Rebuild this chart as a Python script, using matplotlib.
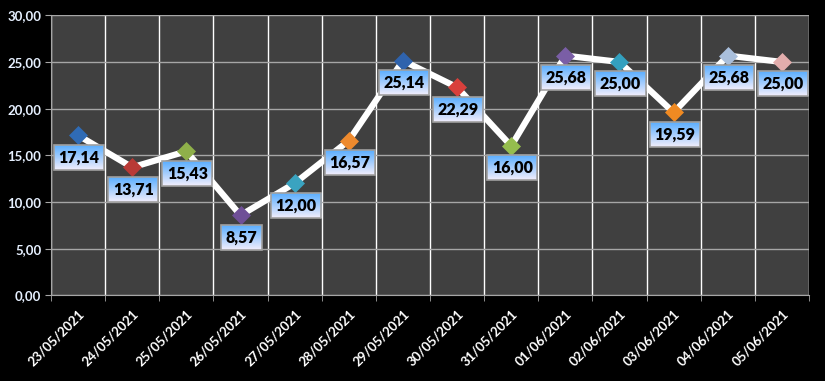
import numpy as np
import matplotlib
matplotlib.use("Agg")
import matplotlib.pyplot as plt

dates = ["23/05/2021", "24/05/2021", "25/05/2021", "26/05/2021", "27/05/2021",
         "28/05/2021", "29/05/2021", "30/05/2021", "31/05/2021", "01/06/2021",
         "02/06/2021", "03/06/2021", "04/06/2021", "05/06/2021"]
values = [17.14, 13.71, 15.43, 8.57, 12.00, 16.57, 25.14, 22.29, 16.00,
          25.68, 25.00, 19.59, 25.68, 25.00]
marker_colors = ["#2f6bb5", "#b93a36", "#8fb04a", "#6f4f97", "#3aa3c0", "#ee8a2e",
                 "#2f63ad", "#d9403c", "#95bd4e", "#7a5ea6", "#33a0bf", "#f08a22",
                 "#a9bfdc", "#e2adac"]
y_ticks = [0, 5, 10, 15, 20, 25, 30]

plt.rcParams['font.family'] = ['Lato', 'DejaVu Sans']

fig = plt.figure(figsize=(8.25, 3.81), dpi=100, facecolor="black")
ax = fig.add_axes([51 / 825, 1 - 295.3 / 381, (809 - 51) / 825, (295.3 - 15.3) / 381])
ax.set_facecolor("#404040")

x = np.arange(len(values))
ax.set_xlim(-0.5, len(values) - 0.5)
ax.set_ylim(0, 30)

# grid: gray horizontal, white vertical at category boundaries
ax.set_yticks(y_ticks)
ax.set_yticklabels([f"{v:.2f}".replace(".", ",") for v in y_ticks])
ax.set_xticks(x)
ax.set_xticklabels(dates, rotation=45, ha="right", rotation_mode="anchor")
ax.set_xticks(np.arange(-0.5, len(values)), minor=True)
ax.grid(axis="y", which="major", color="#a6a6a6", linewidth=1)
ax.grid(axis="x", which="minor", color="white", linewidth=1)
ax.set_axisbelow(True)

ax.tick_params(axis="x", which="major", length=0, pad=9, colors="white", labelsize=9.5)
ax.tick_params(axis="x", which="minor", length=4, color="#a6a6a6", direction="out")
ax.tick_params(axis="y", length=4, color="#a6a6a6", labelcolor="#e6f0ff", labelsize=9.5, pad=3)
for lbl in ax.get_xticklabels() + ax.get_yticklabels():
    lbl.set_fontweight("bold")
for side in ["top", "right"]:
    ax.spines[side].set_visible(False)
for side in ["left", "bottom"]:
    ax.spines[side].set_color("#a6a6a6")

ax.plot(x, values, color="white", linewidth=4.5, solid_joinstyle="miter", zorder=3)
for xi, v, c in zip(x, values, marker_colors):
    ax.plot(xi, v, marker="D", markersize=9.5, color=c, markeredgecolor=c,
            markeredgewidth=0.5, zorder=4)

texts = []
for xi, v in zip(x, values):
    t = ax.annotate(f"{v:.2f}".replace(".", ","), (xi, v), xytext=(1, -22),
                    textcoords="offset pixels", ha="center", va="center",
                    fontsize=11.5, fontweight="heavy", color="black", zorder=6,
                    bbox=dict(boxstyle="square,pad=0.28", facecolor="none",
                              edgecolor="#a0a0a0", linewidth=1.2))
    texts.append(t)

# gradient fill behind each label box
fig.canvas.draw()
grad = np.linspace(0, 1, 64).reshape(-1, 1)
cmap = matplotlib.colors.LinearSegmentedColormap.from_list("lbl", ["#f2eefc", "#5aaeff"])
inv = ax.transData.inverted()
for t in texts:
    bb = t.get_bbox_patch().get_window_extent()
    (x0, y0), (x1, y1) = inv.transform([(bb.x0, bb.y0), (bb.x1, bb.y1)])
    ax.imshow(grad, extent=(x0, x1, y0, y1), origin="lower", cmap=cmap,
              aspect="auto", zorder=5, clip_on=False, interpolation="bilinear")
ax.set_xlim(-0.5, len(values) - 0.5)
ax.set_ylim(0, 30)

fig.savefig("out.png", dpi=100, facecolor="black")
